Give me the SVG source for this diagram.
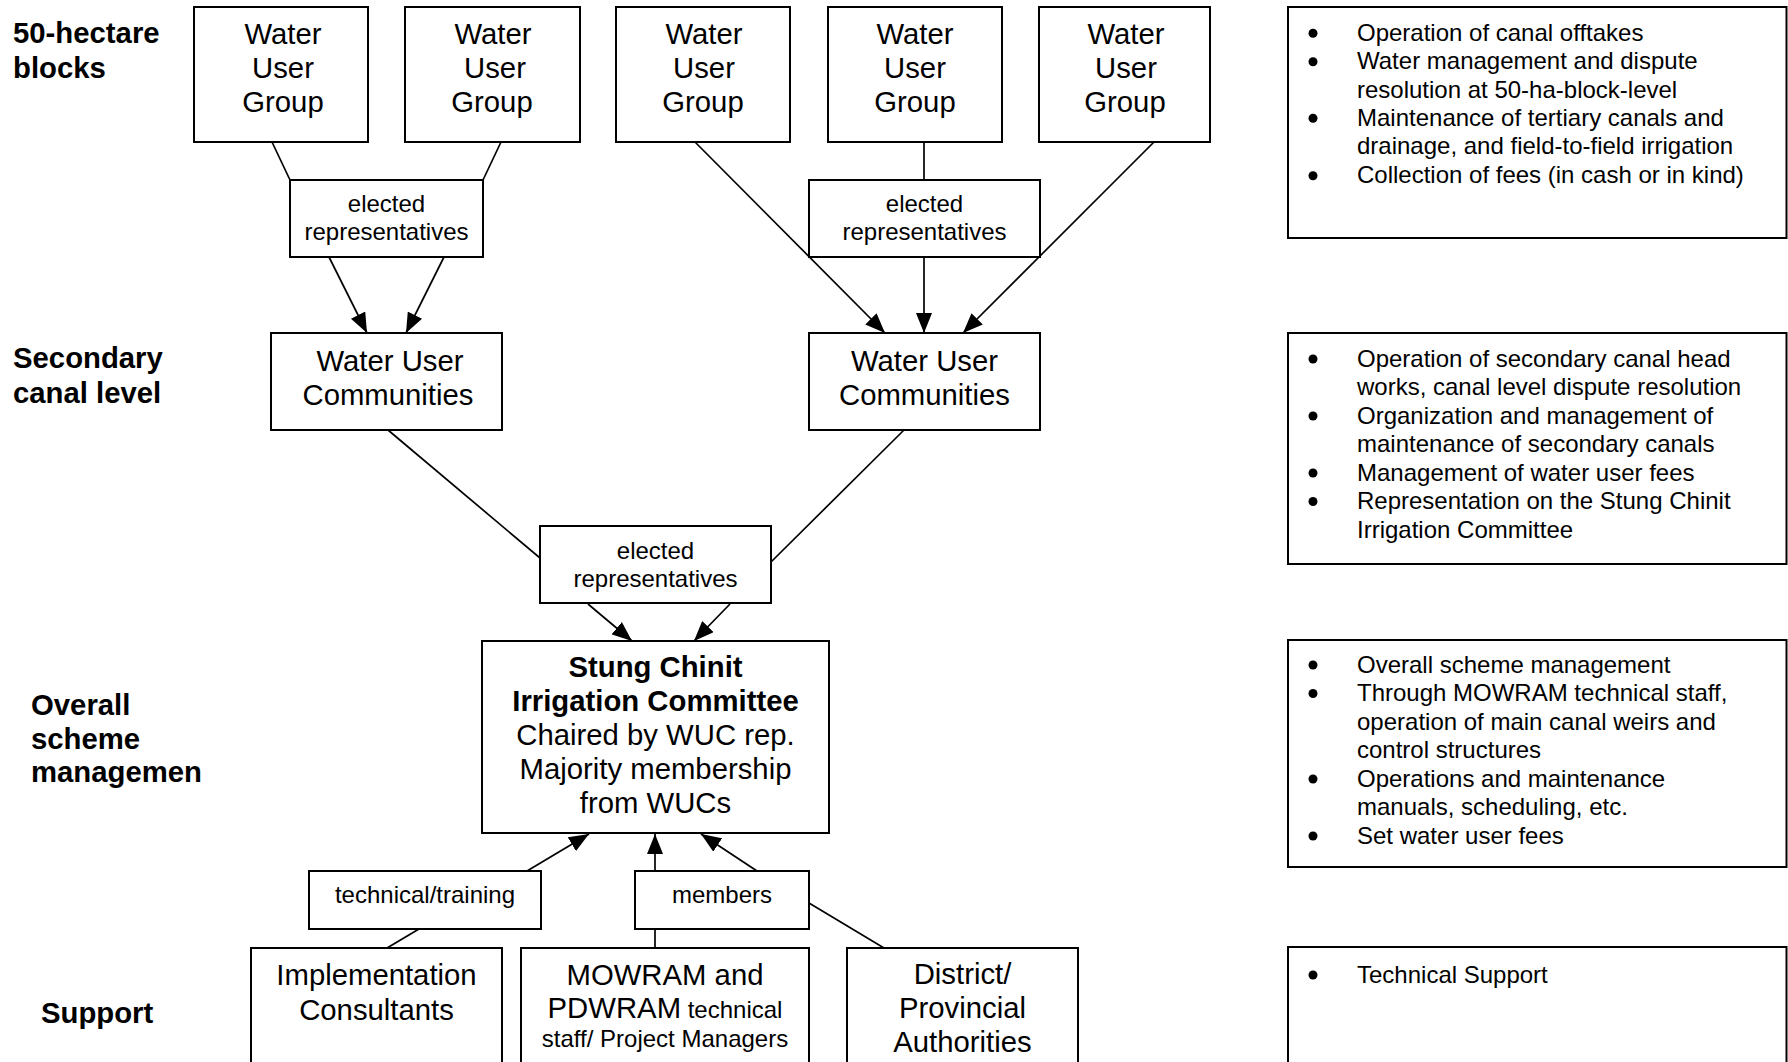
<svg xmlns="http://www.w3.org/2000/svg" width="1788" height="1062" viewBox="0 0 1788 1062">
<style>
text{font-family:"Liberation Sans",Arial,sans-serif;fill:#000}
.big{font-size:29.3px}
.sm{font-size:24px}
.lbl{font-size:29.3px;font-weight:bold}
.c{text-anchor:middle}
.b{font-weight:bold}
rect{fill:#fff;stroke:#000;stroke-width:2}
#connectors line{stroke:#000;stroke-width:1.7}
.arr{marker-end:url(#ah)}
circle{fill:#000}
</style>
<defs>
<marker id="ah" viewBox="0 0 20 16" refX="20" refY="8" markerWidth="20" markerHeight="16" markerUnits="userSpaceOnUse" orient="auto">
<path d="M0,0 L20,8 L0,16 z" fill="#000"/>
</marker>
</defs>
<rect width="1788" height="1062" style="stroke:none;fill:#fff"/>

<g id="level-labels">
<text class="lbl" x="13" y="43">50-hectare</text>
<text class="lbl" x="13" y="78">blocks</text>
<text class="lbl" x="13" y="368">Secondary</text>
<text class="lbl" x="13" y="403">canal level</text>
<text class="lbl" x="31" y="715">Overall</text>
<text class="lbl" x="31" y="748.5">scheme</text>
<text class="lbl" x="31" y="782">managemen</text>
<text class="lbl" x="41" y="1023">Support</text>
</g>

<g id="connectors">
<line x1="272" y1="142" x2="290" y2="180"/>
<line x1="501" y1="142" x2="483" y2="180"/>
<line x1="924" y1="142" x2="924" y2="180"/>
<line class="arr" x1="329" y1="257" x2="367" y2="333"/>
<line class="arr" x1="444" y1="257" x2="406" y2="333"/>
<line class="arr" x1="695" y1="142" x2="885" y2="333"/>
<line class="arr" x1="924" y1="257" x2="924" y2="333"/>
<line class="arr" x1="1154" y1="142" x2="963" y2="333"/>
<line x1="388" y1="430" x2="540" y2="558"/>
<line x1="904" y1="430" x2="771" y2="562"/>
<line class="arr" x1="588" y1="604" x2="632" y2="641"/>
<line class="arr" x1="730" y1="604" x2="694" y2="641"/>
<line class="arr" x1="527" y1="871" x2="589" y2="834"/>
<line class="arr" x1="655" y1="871" x2="655" y2="834"/>
<line class="arr" x1="757" y1="871" x2="701" y2="834"/>
<line x1="419" y1="929" x2="387" y2="948"/>
<line x1="655" y1="929" x2="655" y2="948"/>
<line x1="809" y1="903" x2="884" y2="948"/>
</g>

<g id="wug1"><rect x="194" y="7" width="174" height="135"/>
<text class="big c" x="283" y="44">Water</text><text class="big c" x="283" y="78">User</text><text class="big c" x="283" y="112">Group</text></g>
<g id="wug2"><rect x="405" y="7" width="175" height="135"/>
<text class="big c" x="493" y="44">Water</text><text class="big c" x="495" y="78">User</text><text class="big c" x="492" y="112">Group</text></g>
<g id="wug3"><rect x="616" y="7" width="174" height="135"/>
<text class="big c" x="704" y="44">Water</text><text class="big c" x="704" y="78">User</text><text class="big c" x="703" y="112">Group</text></g>
<g id="wug4"><rect x="828" y="7" width="174" height="135"/>
<text class="big c" x="915" y="44">Water</text><text class="big c" x="915" y="78">User</text><text class="big c" x="915" y="112">Group</text></g>
<g id="wug5"><rect x="1039" y="7" width="171" height="135"/>
<text class="big c" x="1126" y="44">Water</text><text class="big c" x="1126" y="78">User</text><text class="big c" x="1125" y="112">Group</text></g>

<g id="elected1"><rect x="290" y="180" width="193" height="77"/>
<text class="sm c" x="386.5" y="212">elected</text><text class="sm c" x="386.5" y="240">representatives</text></g>
<g id="elected2"><rect x="809" y="180" width="231" height="77"/>
<text class="sm c" x="924.5" y="212">elected</text><text class="sm c" x="924.5" y="240">representatives</text></g>

<g id="wuc1"><rect x="271" y="333" width="231" height="97"/>
<text class="big c" x="390" y="371">Water User</text><text class="big c" x="388" y="405">Communities</text></g>
<g id="wuc2"><rect x="809" y="333" width="231" height="97"/>
<text class="big c" x="924.5" y="371">Water User</text><text class="big c" x="924.5" y="405">Communities</text></g>

<g id="elected3"><rect x="540" y="526" width="231" height="77"/>
<text class="sm c" x="655.5" y="558.5">elected</text><text class="sm c" x="655.5" y="586.5">representatives</text></g>

<g id="stung"><rect x="482" y="641" width="347" height="192"/>
<text class="big c b" x="655.5" y="677">Stung Chinit</text>
<text class="big c b" x="655.5" y="711">Irrigation Committee</text>
<text class="big c" x="655.5" y="745">Chaired by WUC rep.</text>
<text class="big c" x="655.5" y="779">Majority membership</text>
<text class="big c" x="655.5" y="813">from WUCs</text></g>

<g id="tech-training"><rect x="309" y="871" width="232" height="58"/>
<text class="sm c" x="425" y="903">technical/training</text></g>
<g id="members"><rect x="635" y="871" width="174" height="58"/>
<text class="sm c" x="722" y="903">members</text></g>

<g id="impl"><rect x="251" y="948" width="251" height="130"/>
<text class="big c" x="376.5" y="985">Implementation</text><text class="big c" x="376.5" y="1020">Consultants</text></g>
<g id="mowram"><rect x="521" y="948" width="288" height="130"/>
<text class="big c" x="665" y="985">MOWRAM and</text>
<text class="big c" x="665" y="1018">PDWRAM<tspan class="sm"> technical</tspan></text>
<text class="sm c" x="665" y="1047">staff/ Project Managers</text></g>
<g id="district"><rect x="847" y="948" width="231" height="130"/>
<text class="big c" x="962.5" y="984">District/</text><text class="big c" x="962.5" y="1018">Provincial</text><text class="big c" x="962.5" y="1052">Authorities</text></g>

<g id="roles-blocks"><rect x="1288" y="7" width="498.5" height="231"/>
<circle cx="1313" cy="33.3" r="4.5"/><circle cx="1313" cy="61.7" r="4.5"/><circle cx="1313" cy="118.3" r="4.5"/><circle cx="1313" cy="175.7" r="4.5"/>
<text class="sm" x="1357" y="40.8">Operation of canal offtakes</text>
<text class="sm" x="1357" y="69.2">Water management and dispute</text>
<text class="sm" x="1357" y="97.6">resolution at 50-ha-block-level</text>
<text class="sm" x="1357" y="126">Maintenance of tertiary canals and</text>
<text class="sm" x="1357" y="154.4">drainage, and field-to-field irrigation</text>
<text class="sm" x="1357" y="183">Collection of fees (in cash or in kind)</text></g>

<g id="roles-secondary"><rect x="1288" y="333" width="498.5" height="231"/>
<circle cx="1313" cy="359" r="4.5"/><circle cx="1313" cy="416" r="4.5"/><circle cx="1313" cy="473" r="4.5"/><circle cx="1313" cy="501.5" r="4.5"/>
<text class="sm" x="1357" y="366.5">Operation of secondary canal head</text>
<text class="sm" x="1357" y="395">works, canal level dispute resolution</text>
<text class="sm" x="1357" y="423.5">Organization and management of</text>
<text class="sm" x="1357" y="452">maintenance of secondary canals</text>
<text class="sm" x="1357" y="480.5">Management of water user fees</text>
<text class="sm" x="1357" y="509">Representation on the Stung Chinit</text>
<text class="sm" x="1357" y="537.5">Irrigation Committee</text></g>

<g id="roles-overall"><rect x="1288" y="640" width="498.5" height="227"/>
<circle cx="1313" cy="665" r="4.5"/><circle cx="1313" cy="693.5" r="4.5"/><circle cx="1313" cy="779" r="4.5"/><circle cx="1313" cy="836" r="4.5"/>
<text class="sm" x="1357" y="672.5">Overall scheme management</text>
<text class="sm" x="1357" y="701">Through MOWRAM technical staff,</text>
<text class="sm" x="1357" y="729.5">operation of main canal weirs and</text>
<text class="sm" x="1357" y="758">control structures</text>
<text class="sm" x="1357" y="786.5">Operations and maintenance</text>
<text class="sm" x="1357" y="815">manuals, scheduling, etc.</text>
<text class="sm" x="1357" y="843.5">Set water user fees</text></g>

<g id="roles-support"><rect x="1288" y="947" width="498.5" height="130"/>
<circle cx="1313" cy="975" r="4.5"/>
<text class="sm" x="1357" y="982.5">Technical Support</text></g>
</svg>
